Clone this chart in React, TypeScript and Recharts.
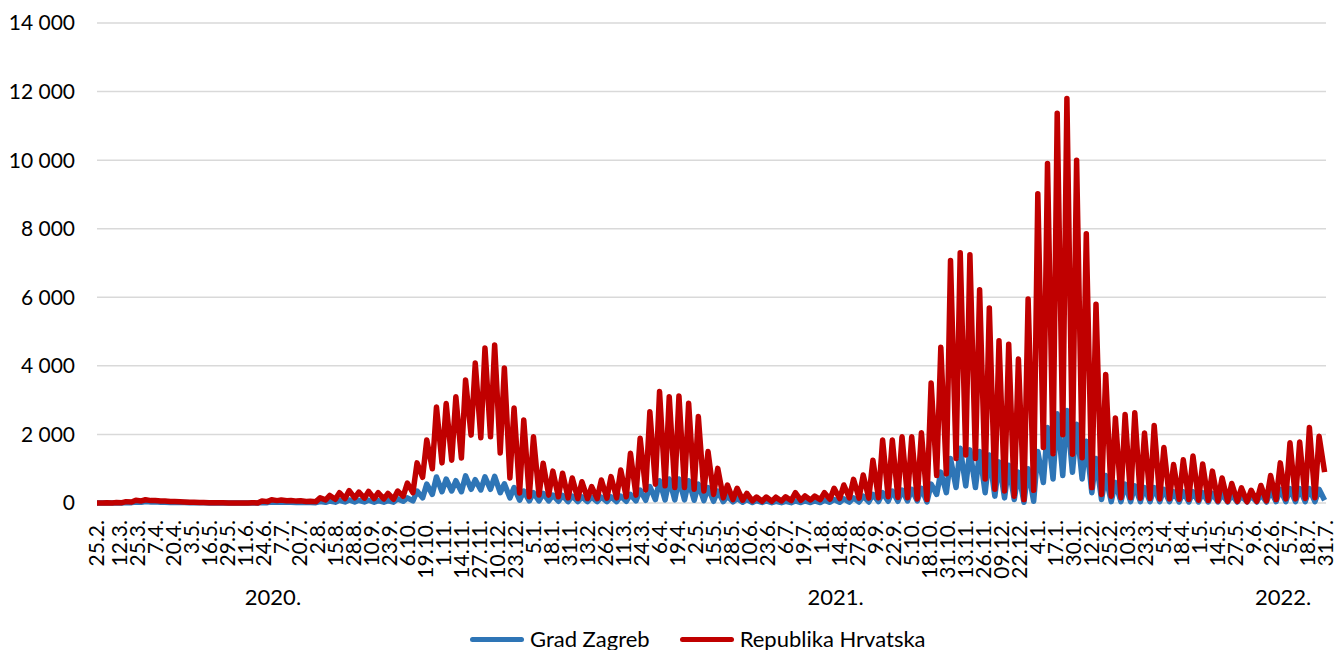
import { LineChart, Line, XAxis, YAxis, CartesianGrid, Legend } from 'recharts';

// x-axis labels (every 13th day), year labels and y ticks
const TICK_LABELS = [
  '25.2.', '12.3.', '25.3.', '7.4.', '20.4.', '3.5.', '16.5.', '29.5.', '11.6.', '24.6.', '7.7.', '20.7.',
  '2.8.', '15.8.', '28.8.', '10.9.', '23.9.', '6.10.', '19.10.', '1.11.', '14.11.', '27.11.', '10.12.', '23.12.',
  '5.1.', '18.1.', '31.1.', '13.2.', '26.2.', '11.3.', '24.3.', '6.4.', '19.4.', '2.5.', '15.5.', '28.5.',
  '10.6.', '23.6.', '6.7.', '19.7.', '1.8.', '14.8.', '27.8.', '9.9.', '22.9.', '5.10.', '18.10.', '31.10.',
  '13.11.', '26.11.', '09.12.', '22.12.',
  '4.1.', '17.1.', '30.1.', '12.2.', '25.2.', '10.3.', '23.3.', '5.4.', '18.4.', '1.5.', '14.5.', '27.5.',
  '9.6.', '22.6.', '5.7.', '18.7.', '31.7.',
];
const YEAR_LABELS = ['2020.', '2021.', '2022.'];
const YEAR_LABEL_DAYS = [127, 533, 856];
const Y_TICKS = [0, 2000, 4000, 6000, 8000, 10000, 12000, 14000];

// weekly high (Tuesday) and low (Saturday) daily cases
const HR_PEAK = [
  0, 5, 15, 40, 80, 95, 75, 60, 45, 30,
  20, 12, 8, 5, 3, 2, 10, 60, 95, 90,
  75, 65, 50, 150, 220, 300, 360, 320, 340, 300,
  280, 350, 580, 1170, 1840, 2800, 2900, 3100, 3590, 4080,
  4520, 4610, 3940, 2770, 2420, 1930, 1160, 930, 870, 730,
  620, 480, 670, 770, 960, 1450, 1890, 2660, 3250, 3100,
  3120, 2910, 2520, 1500, 1010, 525, 430, 280, 175, 175,
  170, 180, 300, 205, 200, 300, 430, 525, 690, 816,
  1250, 1840, 1840, 1930, 1930, 2050, 3500, 4540, 7070, 7300,
  7240, 6220, 5690, 4730, 4630, 4200, 5950, 9020, 9900, 11370,
  11800, 10000, 7850, 5800, 3750, 2480, 2580, 2630, 2040, 2260,
  1620, 1120, 1260, 1370, 1140, 930, 730, 570, 440, 370,
  510, 800, 1170, 1760, 1780, 2200, 1950,
];
const HR_LOW = [
  0, 3, 10, 30, 60, 70, 60, 45, 35, 20,
  12, 8, 5, 3, 2, 1, 3, 40, 70, 65,
  55, 45, 40, 90, 110, 130, 150, 140, 130, 120,
  110, 200, 300, 750, 1000, 1170, 1250, 1310, 1980, 1900,
  1930, 1460, 730, 290, 180, 230, 230, 180, 150, 130,
  130, 130, 140, 150, 180, 230, 380, 550, 500, 450,
  450, 400, 350, 250, 150, 100, 80, 60, 50, 50,
  60, 70, 80, 90, 100, 110, 130, 150, 140, 140,
  150, 180, 160, 150, 120, 100, 800, 850, 1300, 1400,
  1300, 700, 400, 350, 200, 100, 370, 1620, 1440, 1990,
  1420, 1320, 450, 250, 200, 150, 150, 140, 130, 120,
  120, 110, 100, 80, 70, 60, 50, 50, 40, 50,
  60, 100, 120, 120, 130, 150, 900,
];
const ZG_PEAK = [
  0, 1, 5, 15, 30, 40, 35, 25, 18, 12,
  8, 5, 3, 2, 1, 1, 3, 15, 30, 30,
  25, 20, 15, 40, 60, 80, 90, 80, 80, 70,
  70, 120, 150, 350, 550, 760, 700, 650, 790, 680,
  760, 780, 560, 450, 350, 300, 280, 230, 220, 200,
  180, 170, 170, 180, 200, 250, 380, 480, 650, 700,
  700, 650, 550, 450, 350, 200, 130, 100, 70, 60,
  50, 50, 60, 60, 60, 80, 100, 120, 150, 200,
  250, 300, 350, 380, 400, 430, 550, 900, 1300, 1600,
  1550, 1500, 1400, 1200, 1100, 900, 1000, 1500, 2200, 2600,
  2700, 2300, 1800, 1300, 800, 600, 550, 500, 450, 450,
  400, 330, 330, 330, 300, 280, 250, 230, 200, 200,
  250, 350, 400, 420, 420, 420, 400,
];
const ZG_LOW = [
  0, 1, 3, 10, 20, 30, 25, 18, 12, 8,
  5, 3, 2, 1, 0, 0, 1, 10, 20, 20,
  15, 12, 10, 20, 25, 30, 30, 30, 25, 25,
  25, 50, 60, 150, 250, 330, 350, 330, 400, 380,
  400, 300, 150, 80, 60, 60, 60, 50, 40, 40,
  40, 40, 40, 40, 50, 60, 80, 100, 90, 90,
  90, 80, 70, 50, 40, 30, 20, 15, 15, 10,
  10, 10, 15, 15, 15, 20, 20, 25, 30, 30,
  40, 50, 50, 60, 60, 30, 250, 300, 450, 500,
  450, 300, 200, 150, 100, 20, 50, 600, 700, 800,
  900, 700, 300, 100, 40, 40, 40, 40, 40, 40,
  40, 30, 30, 30, 30, 30, 30, 30, 30, 30,
  30, 40, 40, 40, 40, 40, 80,
];

const START = Date.UTC(2020, 1, 25);
const LAST_DAY = 887;
const FONT = 'Lato, "Open Sans", sans-serif';

const tickDays = (() => {
  let year = 2020;
  let prevMonth = 0;
  return TICK_LABELS.map((s) => {
    const [d, m] = s.split('.').map(Number);
    if (m < prevMonth) year += 1;
    prevMonth = m;
    return Math.round((Date.UTC(year, m - 1, d) - START) / 86400000);
  });
})();

const data: { day: number; zg: number; hr: number }[] = [];
HR_PEAK.forEach((v, k) => {
  data.push({ day: 7 * k, zg: ZG_PEAK[k], hr: v });
  data.push({ day: Math.min(7 * k + 4, LAST_DAY), zg: ZG_LOW[k], hr: HR_LOW[k] });
});

const fmt = (v: number) => String(v).replace(/\B(?=(\d{3})+(?!\d))/g, ' ');

function DayTick(props: any) {
  const { x, y, payload } = props;
  const i = tickDays.indexOf(payload.value);
  return (
    <text
      x={x}
      y={y}
      transform={`rotate(-90, ${x}, ${y})`}
      textAnchor="end"
      dx={-9}
      dy="0.35em"
      fontSize={21}
      fontFamily={FONT}
      fill="#000"
    >
      {TICK_LABELS[i]}
    </text>
  );
}

const SERIES = [
  { name: 'Grad Zagreb', color: '#2E75B6' },
  { name: 'Republika Hrvatska', color: '#C00000' },
];

function LegendContent() {
  return (
    <div style={{ display: 'flex', alignItems: 'center', fontFamily: FONT, fontSize: 22, lineHeight: '26px' }}>
      {SERIES.map((s) => (
        <div key={s.name} style={{ display: 'flex', alignItems: 'center', marginRight: 30 }}>
          <span style={{ width: 54, height: 5, borderRadius: 3, background: s.color, marginRight: 6 }} />
          <span style={{ color: '#000' }}>{s.name}</span>
        </div>
      ))}
    </div>
  );
}

export default function App() {
  return (
    <div style={{ position: 'absolute', left: 0, top: 0, width: 1336, height: 650, background: '#fff' }}>
      <LineChart width={1336} height={650} data={data} margin={{ top: 23, right: 10, bottom: 37, left: 0 }}>
        <CartesianGrid vertical={false} stroke="#d9d9d9" strokeWidth={1.5} />
        <XAxis
          dataKey="day"
          type="number"
          domain={[0, LAST_DAY]}
          ticks={tickDays}
          interval={0}
          height={70}
          axisLine={false}
          tickLine={false}
          tick={DayTick}
        />
        <XAxis
          xAxisId="year"
          dataKey="day"
          type="number"
          domain={[0, LAST_DAY]}
          ticks={YEAR_LABEL_DAYS}
          interval={0}
          height={40}
          axisLine={false}
          tickLine={false}
          tickMargin={10}
          tickFormatter={(v: number) => YEAR_LABELS[YEAR_LABEL_DAYS.indexOf(v)]}
          tick={{ fontSize: 22, fill: '#000', fontFamily: FONT }}
        />
        <YAxis
          domain={[0, 14000]}
          ticks={Y_TICKS}
          width={97}
          axisLine={false}
          tickLine={false}
          tickMargin={16}
          tickFormatter={fmt}
          tick={{ fontSize: 21, fill: '#000', fontFamily: FONT }}
        />
        <Line
          dataKey="zg"
          name="Grad Zagreb"
          type="linear"
          stroke="#2E75B6"
          strokeWidth={5.5}
          strokeLinejoin="round"
          dot={false}
          isAnimationActive={false}
        />
        <Line
          dataKey="hr"
          name="Republika Hrvatska"
          type="linear"
          stroke="#C00000"
          strokeWidth={5.5}
          strokeLinejoin="round"
          dot={false}
          isAnimationActive={false}
        />
        <Legend
          layout="horizontal"
          verticalAlign="middle"
          align="center"
          wrapperStyle={{ top: 626, left: 470, width: 520 }}
          content={LegendContent}
        />
      </LineChart>
    </div>
  );
}
